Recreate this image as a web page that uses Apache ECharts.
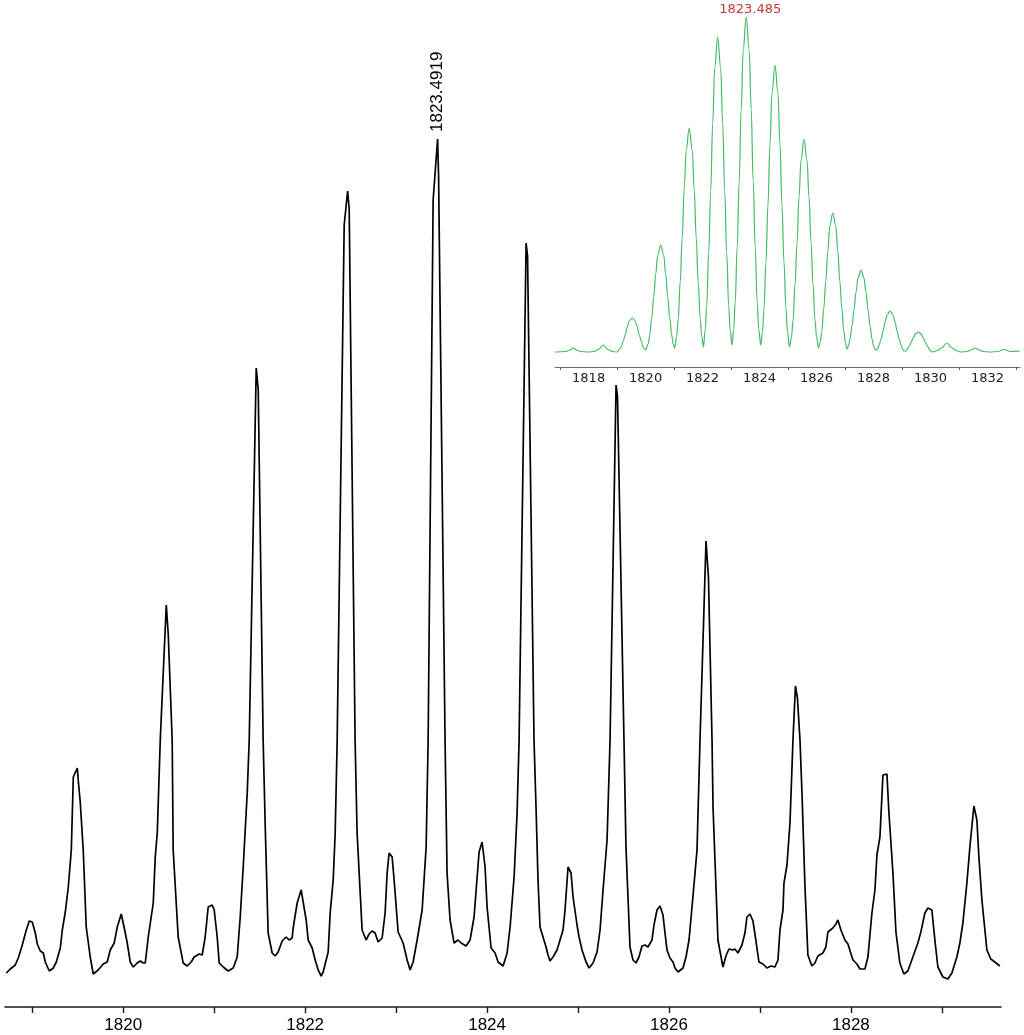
<!DOCTYPE html>
<html>
<head>
<meta charset="utf-8">
<title>Isotope pattern</title>
<script src="https://cdn.jsdelivr.net/npm/echarts@6/dist/echarts.min.js"></script>
<style>
  html, body { margin: 0; padding: 0; background: #fff; }
  #chart { width: 1024px; height: 1035px; }
</style>
</head>
<body>
<div id="chart"></div>
<script>
// measured spectrum (m/z, intensity in arbitrary units)
var mainMz = [
  1818.714, 1818.758, 1818.813, 1818.846, 1818.890, 1818.934, 1818.967, 1819.000, 1819.033, 1819.055,
  1819.088, 1819.121, 1819.143, 1819.187, 1819.231, 1819.264, 1819.308, 1819.330, 1819.363, 1819.396,
  1819.429, 1819.451, 1819.495, 1819.505, 1819.527, 1819.560, 1819.593, 1819.637, 1819.670, 1819.725,
  1819.780, 1819.824, 1819.857, 1819.901, 1819.934, 1819.978, 1820.011, 1820.044, 1820.077, 1820.110,
  1820.154, 1820.187, 1820.220, 1820.242, 1820.275, 1820.330, 1820.352, 1820.374, 1820.407, 1820.473,
  1820.495, 1820.538, 1820.549, 1820.604, 1820.659, 1820.703, 1820.747, 1820.780, 1820.835, 1820.868,
  1820.901, 1820.934, 1820.978, 1821.000, 1821.033, 1821.055, 1821.099, 1821.154, 1821.209, 1821.253,
  1821.286, 1821.319, 1821.363, 1821.385, 1821.462, 1821.484, 1821.538, 1821.560, 1821.593, 1821.637,
  1821.670, 1821.703, 1821.747, 1821.791, 1821.824, 1821.857, 1821.868, 1821.912, 1821.956, 1821.978,
  1822.011, 1822.033, 1822.077, 1822.110, 1822.143, 1822.176, 1822.198, 1822.253, 1822.275, 1822.308,
  1822.330, 1822.352, 1822.429, 1822.467, 1822.484, 1822.549, 1822.571, 1822.626, 1822.670, 1822.703,
  1822.736, 1822.769, 1822.802, 1822.846, 1822.879, 1822.901, 1822.923, 1822.956, 1822.978, 1823.022,
  1823.077, 1823.121, 1823.154, 1823.187, 1823.231, 1823.286, 1823.330, 1823.352, 1823.407, 1823.456,
  1823.467, 1823.538, 1823.560, 1823.593, 1823.637, 1823.681, 1823.714, 1823.769, 1823.813, 1823.857,
  1823.912, 1823.945, 1823.978, 1824.000, 1824.044, 1824.088, 1824.121, 1824.176, 1824.220, 1824.253,
  1824.297, 1824.330, 1824.352, 1824.429, 1824.445, 1824.516, 1824.538, 1824.560, 1824.582, 1824.615,
  1824.648, 1824.670, 1824.692, 1824.725, 1824.769, 1824.802, 1824.835, 1824.857, 1824.890, 1824.923,
  1824.945, 1824.989, 1825.011, 1825.044, 1825.088, 1825.121, 1825.165, 1825.209, 1825.242, 1825.275,
  1825.319, 1825.352, 1825.418, 1825.434, 1825.505, 1825.527, 1825.571, 1825.604, 1825.637, 1825.670,
  1825.703, 1825.736, 1825.769, 1825.813, 1825.835, 1825.868, 1825.901, 1825.934, 1825.956, 1825.978,
  1826.011, 1826.044, 1826.066, 1826.099, 1826.154, 1826.187, 1826.220, 1826.253, 1826.286, 1826.308,
  1826.341, 1826.407, 1826.434, 1826.473, 1826.484, 1826.538, 1826.593, 1826.626, 1826.659, 1826.703,
  1826.725, 1826.758, 1826.802, 1826.835, 1826.857, 1826.890, 1826.923, 1826.956, 1826.989, 1827.033,
  1827.077, 1827.121, 1827.165, 1827.198, 1827.220, 1827.253, 1827.264, 1827.297, 1827.330, 1827.363,
  1827.390, 1827.412, 1827.440, 1827.462, 1827.495, 1827.527, 1827.571, 1827.604, 1827.637, 1827.692,
  1827.725, 1827.747, 1827.802, 1827.835, 1827.857, 1827.890, 1827.934, 1827.967, 1828.022, 1828.066,
  1828.099, 1828.154, 1828.187, 1828.231, 1828.264, 1828.286, 1828.319, 1828.352, 1828.396, 1828.418,
  1828.462, 1828.495, 1828.538, 1828.582, 1828.626, 1828.681, 1828.736, 1828.769, 1828.813, 1828.846,
  1828.890, 1828.923, 1828.956, 1829.011, 1829.066, 1829.110, 1829.165, 1829.198, 1829.231, 1829.275,
  1829.308, 1829.352, 1829.385, 1829.407, 1829.440, 1829.495, 1829.538, 1829.582, 1829.637
];
var mainInt = [
  34, 38, 42, 49, 62, 77, 86, 85, 74, 63,
  56, 54, 45, 36, 39, 45, 59, 77, 95, 120,
  157, 230, 239, 227, 205, 157, 80, 50, 33, 37,
  43, 45, 57, 64, 80, 93, 79, 64, 45, 40,
  44, 46, 44, 44, 70, 104, 150, 174, 267, 402,
  372, 267, 157, 70, 44, 41, 45, 50, 53, 52,
  70, 100, 102, 97, 70, 44, 40, 36, 39, 50,
  90, 140, 214, 267, 639, 617, 267, 184, 74, 54,
  51, 55, 66, 70, 67, 69, 79, 104, 117, 105,
  87, 67, 59, 47, 37, 31, 35, 55, 94, 127,
  174, 267, 782, 816, 798, 267, 174, 77, 67, 73,
  76, 74, 65, 69, 94, 134, 154, 150, 127, 75,
  64, 47, 37, 45, 67, 97, 160, 267, 807, 868,
  830, 267, 134, 87, 64, 67, 64, 61, 67, 90,
  155, 165, 140, 100, 59, 54, 45, 41, 54, 80,
  130, 194, 267, 764, 751, 267, 200, 127, 80, 70,
  60, 52, 46, 50, 57, 67, 77, 97, 140, 134,
  110, 82, 70, 57, 45, 39, 44, 55, 77, 117,
  167, 267, 622, 610, 267, 160, 60, 47, 44, 50,
  61, 62, 60, 67, 82, 97, 101, 92, 74, 57,
  49, 45, 39, 35, 39, 50, 67, 100, 134, 157,
  267, 466, 429, 267, 200, 67, 40, 51, 58, 57,
  58, 54, 62, 74, 90, 93, 86, 66, 45, 43,
  39, 41, 40, 47, 77, 97, 124, 142, 184, 267,
  321, 309, 267, 214, 120, 52, 41, 44, 51, 54,
  60, 75, 79, 83, 87, 77, 67, 63, 47, 43,
  38, 38, 50, 94, 117, 152, 170, 232, 233, 194,
  134, 75, 44, 33, 36, 50, 64, 75, 94, 99,
  97, 67, 40, 30, 28, 34, 50, 64, 84, 124,
  160, 201, 187, 150, 107, 57, 48, 45, 41
];
var mainTicks = [1819, 1820, 1821, 1822, 1823, 1824, 1825, 1826, 1827, 1828, 1829];
var mainLabels = [1820, 1822, 1824, 1826, 1828];
var mainPeakText = '1823.4919';

// simulated pattern (inset)
var insetMz = [
  1816.82,
  1817.20, 1817.35, 1817.46, 1817.57, 1817.72, 1817.98,
  1818.19, 1818.34, 1818.51, 1818.68, 1818.83, 1819.00,
  1819.091, 1819.144, 1819.214, 1819.284, 1819.355, 1819.425, 1819.530, 1819.635, 1819.705, 1819.776, 1819.846, 1819.916, 1819.969, 1820.00,
  1820.091, 1820.144, 1820.214, 1820.284, 1820.355, 1820.425, 1820.530, 1820.635, 1820.705, 1820.776, 1820.846, 1820.916, 1820.969, 1821.02,
  1821.091, 1821.144, 1821.214, 1821.284, 1821.355, 1821.425, 1821.530, 1821.635, 1821.705, 1821.776, 1821.846, 1821.916, 1821.969, 1822.03,
  1822.091, 1822.144, 1822.214, 1822.284, 1822.355, 1822.425, 1822.530, 1822.635, 1822.705, 1822.776, 1822.846, 1822.916, 1822.969, 1823.03,
  1823.091, 1823.144, 1823.214, 1823.284, 1823.355, 1823.425, 1823.530, 1823.635, 1823.705, 1823.776, 1823.846, 1823.916, 1823.969, 1824.04,
  1824.101, 1824.154, 1824.224, 1824.294, 1824.365, 1824.435, 1824.540, 1824.645, 1824.715, 1824.786, 1824.856, 1824.926, 1824.979, 1825.05,
  1825.121, 1825.174, 1825.244, 1825.314, 1825.385, 1825.455, 1825.560, 1825.665, 1825.735, 1825.806, 1825.876, 1825.946, 1825.999, 1826.07,
  1826.131, 1826.184, 1826.254, 1826.324, 1826.395, 1826.465, 1826.570, 1826.675, 1826.745, 1826.816, 1826.886, 1826.956, 1827.009, 1827.07,
  1827.121, 1827.174, 1827.244, 1827.314, 1827.385, 1827.455, 1827.560, 1827.665, 1827.735, 1827.806, 1827.876, 1827.946, 1827.999, 1828.07,
  1828.141, 1828.194, 1828.264, 1828.334, 1828.405, 1828.475, 1828.580, 1828.685, 1828.755, 1828.826, 1828.896, 1828.966, 1829.019, 1829.07,
  1829.131, 1829.184, 1829.254, 1829.324, 1829.395, 1829.465, 1829.570, 1829.675, 1829.745, 1829.816, 1829.886, 1829.956, 1830.009, 1830.07,
  1830.25, 1830.40, 1830.57, 1830.74, 1830.89, 1831.07,
  1831.28, 1831.42, 1831.56, 1831.70, 1831.84, 1832.09,
  1832.35, 1832.58, 1832.81, 1833.14
];
var insetInt = [
  15,
  15.5, 17, 19, 17, 15.5, 15,
  15.5, 17.5, 22, 17.5, 15.5, 15,
  18, 20, 26, 32, 40, 46, 49, 46, 40, 32, 26, 20, 18, 17,
  23, 32, 49, 70, 93, 112, 122, 112, 93, 70, 49, 32, 23, 19,
  31, 48, 85, 129, 178, 217, 239, 217, 178, 129, 85, 48, 31, 20,
  37, 61, 114, 176, 244, 299, 330, 299, 244, 176, 114, 61, 37, 22,
  38, 65, 120, 186, 258, 317, 350, 317, 258, 186, 120, 65, 38, 22,
  35, 58, 105, 162, 223, 274, 302, 274, 223, 162, 105, 58, 35, 20,
  30, 47, 82, 124, 170, 207, 228, 207, 170, 124, 82, 47, 30, 19,
  25, 36, 59, 86, 116, 141, 154, 141, 116, 86, 59, 36, 25, 18,
  21, 28, 41, 57, 75, 89, 97, 89, 75, 57, 41, 28, 21, 17,
  18, 22, 28, 36, 45, 52, 56, 52, 45, 36, 28, 22, 18, 16,
  16, 18, 21, 25, 29, 33, 35, 33, 29, 25, 21, 18, 16, 15,
  16.5, 19.5, 24, 19.5, 16.5, 15,
  15.5, 17, 19, 17, 15.5, 15,
  15.5, 17.5, 15.5, 16
];
var insetTicks = [1817, 1819, 1821, 1823, 1825, 1827, 1829, 1831, 1833];
var insetLabels = [1818, 1820, 1822, 1824, 1826, 1828, 1830, 1832];
var insetPeakText = '1823.485';

function peakIndex(arr) {
  var k = 0;
  for (var i = 1; i < arr.length; i++) {
    if (arr[i] > arr[k]) k = i;
  }
  return k;
}

function pairs(xs, ys) {
  return xs.map(function (x, i) { return [x, ys[i]]; });
}

function plain(v) {
  return String(v);
}

var mainTop = peakIndex(mainInt);
var insetTop = peakIndex(insetInt);

var chart = echarts.init(document.getElementById('chart'), null, { renderer: 'canvas' });

var option = {
  animation: false,
  backgroundColor: '#fff',
  grid: [
    { left: 5, right: 23, top: 0, bottom: 28 },
    { left: 555, right: 4, top: 0, bottom: 668 }
  ],
  xAxis: [
    {
      type: 'value',
      gridIndex: 0,
      min: 1818.7,
      max: 1829.65,
      splitLine: { show: false },
      axisLine: { show: true, onZero: false, lineStyle: { color: '#1a1a1a', width: 1.6 } },
      axisTick: {
        show: true,
        length: 6,
        customValues: mainTicks,
        lineStyle: { color: '#1a1a1a', width: 1.4 }
      },
      axisLabel: {
        customValues: mainLabels,
        formatter: plain,
        margin: 10,
        color: '#000',
        fontSize: 17,
        fontFamily: 'Liberation Sans'
      }
    },
    {
      type: 'value',
      gridIndex: 1,
      min: 1816.82,
      max: 1833.14,
      splitLine: { show: false },
      axisLine: { show: true, onZero: false, lineStyle: { color: '#6f6f6f', width: 1.2 } },
      axisTick: {
        show: true,
        length: 3,
        customValues: insetTicks,
        lineStyle: { color: '#555', width: 1 }
      },
      axisLabel: {
        customValues: insetLabels,
        formatter: plain,
        margin: 5,
        color: '#222',
        fontSize: 13,
        fontFamily: 'DejaVu Sans'
      }
    }
  ],
  yAxis: [
    { type: 'value', gridIndex: 0, min: 0, max: 1007, show: false },
    { type: 'value', gridIndex: 1, min: 0, max: 367, show: false }
  ],
  series: [
    {
      name: 'measured',
      type: 'line',
      xAxisIndex: 0,
      yAxisIndex: 0,
      showSymbol: false,
      lineStyle: { color: '#000', width: 1.7 },
      data: pairs(mainMz, mainInt),
      markPoint: {
        symbol: 'circle',
        symbolSize: 0,
        silent: true,
        data: [{
          coord: [mainMz[mainTop], mainInt[mainTop]],
          label: {
            show: true,
            formatter: mainPeakText,
            position: 'top',
            distance: 7,
            rotate: 90,
            align: 'left',
            verticalAlign: 'middle',
            color: '#000',
            fontSize: 17,
            fontFamily: 'Liberation Sans'
          }
        }]
      }
    },
    {
      name: 'simulated',
      type: 'line',
      xAxisIndex: 1,
      yAxisIndex: 1,
      showSymbol: false,
      smooth: 0.4,
      smoothMonotone: 'x',
      lineStyle: { color: '#44bb66', width: 1.2 },
      data: pairs(insetMz, insetInt),
      markPoint: {
        symbol: 'circle',
        symbolSize: 0,
        silent: true,
        data: [{
          coord: [insetMz[insetTop], insetInt[insetTop]],
          label: {
            show: true,
            formatter: insetPeakText,
            position: 'top',
            distance: 1,
            offset: [4, 0],
            color: '#c0393b',
            fontSize: 13,
            fontFamily: 'DejaVu Sans'
          }
        }]
      }
    }
  ]
};

chart.setOption(option);
</script>
</body>
</html>
